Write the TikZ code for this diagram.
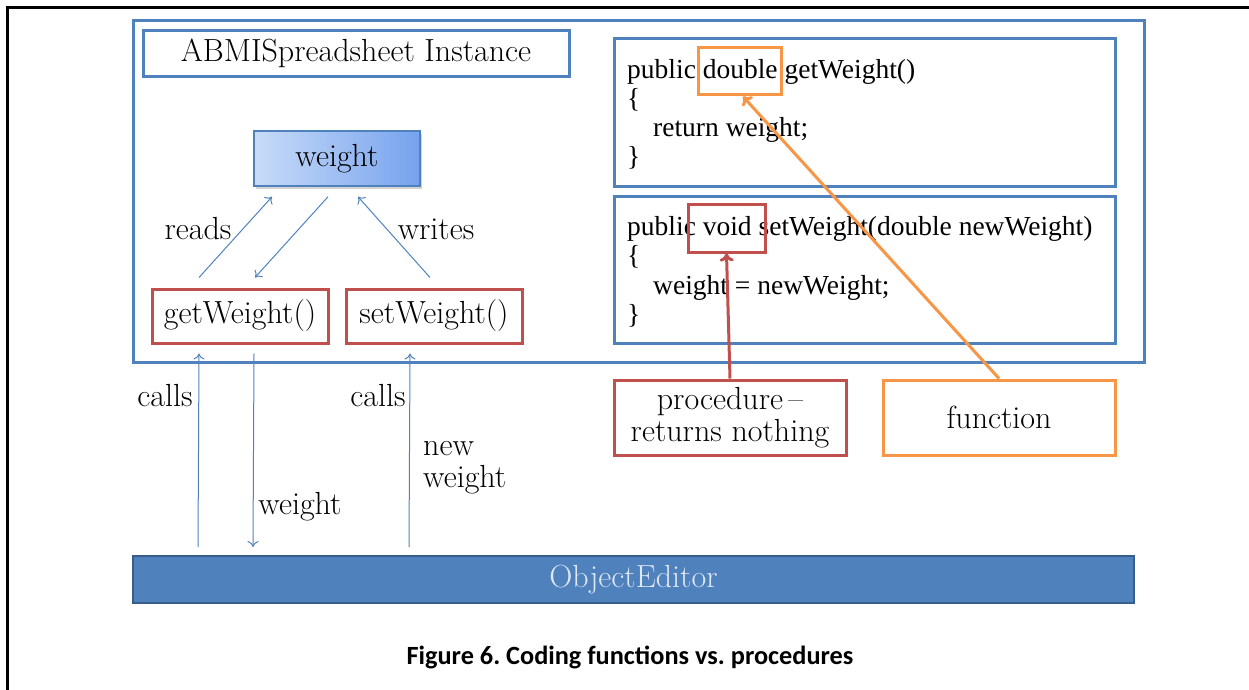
\documentclass[tikz,border=0pt]{standalone}
\usepackage{fontspec}
\usetikzlibrary{calc,arrows.meta,shadows}
\newfontfamily\codefont{Liberation Serif}
\newfontfamily\capfont{Carlito}
\definecolor{bl}{RGB}{79,129,189}
\definecolor{rd}{RGB}{192,80,77}
\definecolor{og}{RGB}{247,150,70}
\definecolor{bard}{RGB}{56,93,138}
\definecolor{wl}{RGB}{200,219,248}
\definecolor{wr}{RGB}{118,163,238}
\definecolor{bartext}{RGB}{222,232,244}
\tikzset{
  bluebox/.style={draw=bl,line width=3pt,inner sep=0pt},
  redbox/.style={draw=rd,line width=3pt,inner sep=0pt},
  orangebox/.style={draw=og,line width=3pt,inner sep=0pt},
  lbl/.style={font=\fontsize{32}{32}\selectfont,inner sep=0pt},
  code/.style={font=\codefont\fontsize{27.5}{29}\selectfont,inner sep=0pt,anchor=base west},
  thin/.style={draw=bl,line width=1pt,-{To[length=6pt,width=11pt]}},
}
\begin{document}
\frenchspacing
\begin{tikzpicture}[x=1pt,y=-1pt]
\useasboundingbox (0,0) rectangle (1249,689);
\draw[line width=3pt] (7,700) -- (7,7) -- (1260,7);
% frames
\node[bluebox,minimum width=1011pt,minimum height=342pt] (outer) at (638.5,191) {};
\node[bluebox,minimum width=426pt,minimum height=46pt,lbl] (title) at (356,53) {ABMISpreadsheet Instance};
\node[draw=bl,line width=1.5pt,minimum width=166pt,minimum height=55pt,left color=wl,right color=wr,drop shadow={opacity=0.35,shadow xshift=2pt,shadow yshift=-3pt},lbl] (weight) at (337,158.5) {weight};
\node[redbox,minimum width=176pt,minimum height=54pt,lbl] (get) at (240,316) {getWeight()};
\node[redbox,minimum width=176pt,minimum height=54pt,lbl] (set) at (434,316) {setWeight()};
\node[bluebox,minimum width=501pt,minimum height=148pt] (code1) at (864.5,112) {};
\node[bluebox,minimum width=501pt,minimum height=147pt] (code2) at (864.5,269.5) {};
% code text
\node[code] (c1a) at (627,78) {public double getWeight()};
\node[code] (c1b) at (627,107) {\{};
\node[code] (c1c) at (653,136) {return weight;};
\node[code] (c1d) at (627,165) {\}};
\node[code] (c2a) at (627,235) {public void setWeight(double newWeight)};
\node[code] (c2b) at (627,264) {\{};
\node[code] (c2c) at (653,294) {weight = newWeight;};
\node[code] (c2d) at (627,323) {\}};
% highlight boxes
\node[orangebox,minimum width=83pt,minimum height=47pt] (dbl) at (739.5,70.5) {};
\node[redbox,minimum width=77pt,minimum height=48pt] (void) at (726.5,228) {};
\node[redbox,minimum width=232pt,minimum height=75pt,lbl,align=center] (proc) at (730,417.5) {procedure\,--\\returns nothing};
\node[orangebox,minimum width=232pt,minimum height=75pt,lbl] (func) at (999,417.5) {function};
% bar
\node[fill=bl,draw=bard,line width=2pt,minimum width=1001pt,minimum height=47pt,lbl,text=bartext] (bar) at (633.5,579.5) {ObjectEditor};
% inner arrows
\draw[thin] ($(get.north)+(-41,-10)$) -- ($(weight.south)+(-65,10)$);
\draw[thin] ($(weight.south)+(-9,10)$) -- ($(get.north)+(15,-10)$);
\draw[thin] ($(set.north)+(-4,-10)$) -- ($(weight.south)+(21,10)$);
% outer arrows
\draw[thin] ($(bar.north west)+(66,-8)$) -- ($(get.south)+(-41,9)$);
\draw[thin] ($(get.south)+(14,9)$) -- ($(bar.north west)+(121,-8)$);
\draw[thin] ($(bar.north west)+(277,-8)$) -- ($(set.south)+(-24,9)$);
% callouts
\draw[draw=rd,line width=3pt,-{To[length=8pt,width=14pt]}] (proc.north) -- (void.south);
\draw[draw=og,line width=3pt,-{To[length=8pt,width=14pt]}] (func.north) -- ($(dbl.south)+(3.5,1)$);
% labels
\node[lbl] (lreads) at (198,229) {reads};
\node[lbl] (lwrites) at (436,229) {writes};
\node[lbl] (lcalls1) at (165,396) {calls};
\node[lbl] (lcalls2) at (378,396) {calls};
\node[lbl] (lweight) at (300,507) {weight};
\node[lbl,align=left,anchor=west] (lnew) at (423,468) {new\\weight};
% caption
\node[font=\capfont\bfseries\fontsize{26.3}{30}\selectfont,inner sep=0pt] (cap) at (630,657) {Figure 6. Coding functions vs. procedures};
\end{tikzpicture}
\end{document}
